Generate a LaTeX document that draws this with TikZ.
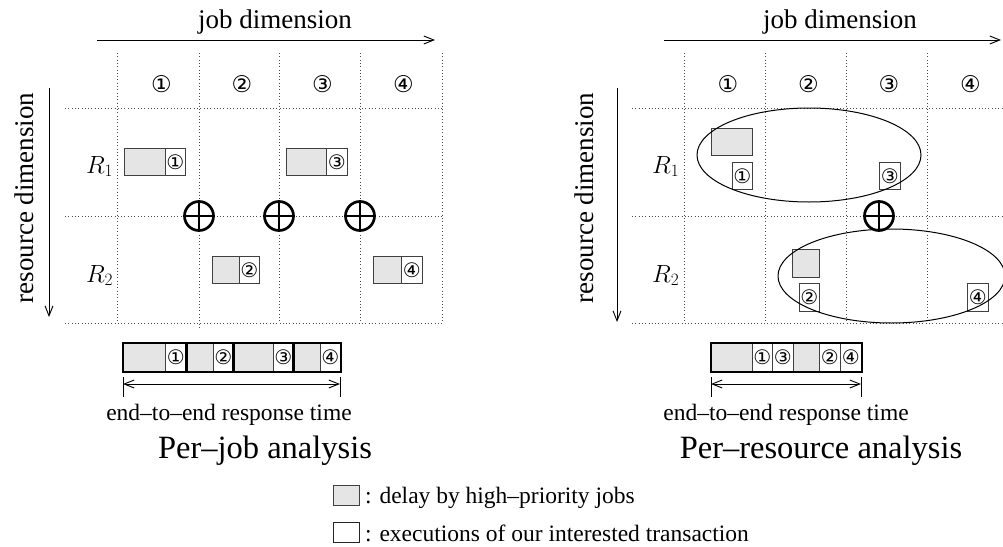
\documentclass[tikz,border=0pt]{standalone}
\usepackage[no-math]{fontspec}
\setmainfont{Liberation Serif}
\newfontfamily\circfont{DejaVu Sans}
\usetikzlibrary{arrows.meta,shapes.geometric}
\newcommand{\hdr}[1]{{\circfont\fontsize{23}{23}\selectfont #1}}
\tikzset{
  grid/.style={draw=black!70, line width=0.9pt, dash pattern=on 0.9pt off 2.4pt},
  delaybox/.style={draw=black!75, fill=black!10, line width=0.8pt, anchor=north west, inner sep=0pt, minimum height=27pt},
  execbox/.style={draw=black!75, fill=white, line width=0.8pt, anchor=north west, inner sep=0pt, minimum height=27pt, font=\circfont\fontsize{20}{20}\selectfont},
  axisarrow/.style={line width=0.9pt, -{Straight Barb[length=10pt,width=8pt]}},
  resparrow/.style={line width=0.9pt, {Straight Barb[length=10pt,width=8pt]}-{Straight Barb[length=10pt,width=8pt]}},
  tick/.style={line width=0.9pt},
  opluscirc/.style={circle, draw, line width=2.7pt, minimum size=29pt, inner sep=0pt},
  plusbar/.style={line width=2.7pt},
  group/.style={ellipse, draw, line width=1pt, inner sep=0pt},
  thickframe/.style={line width=2.6pt, draw=black},
  dimlabel/.style={font=\fontsize{27}{32}\selectfont},
  rlabel/.style={font=\fontsize{25}{30}\selectfont, anchor=base west, inner sep=0pt},
  smalltext/.style={font=\fontsize{23.5}{28}\selectfont},
  titletext/.style={font=\fontsize{32.5}{38}\selectfont, anchor=base},
  hdrlabel/.style={inner sep=0pt}
}
\begin{document}
\begin{tikzpicture}[x=1pt,y=-1pt]
\useasboundingbox (0,0) rectangle (1003,546);

% ================= LEFT PANEL =================
\foreach \x in {117,279,360,442} \draw[grid] (\x,53) -- (\x,323);
\draw[grid] (199,53) -- (199,327);
\foreach \y in {108,216,323} \draw[grid] (65,\y) -- (442,\y);

\node[dimlabel, anchor=base] (ljob) at (275,28) {job dimension};
\coordinate (lja) at (97,40); \coordinate (ljb) at (435,40);
\draw[axisarrow] (lja) -- (ljb);
\node[dimlabel, rotate=90, anchor=base] (lres) at (33,198) {resource dimension};
\coordinate (lra) at (49,88); \coordinate (lrb) at (49,317);
\draw[axisarrow] (lra) -- (lrb);

\node[hdrlabel] (lh1) at (161.5,84) {\hdr{①}};
\node[hdrlabel] (lh2) at (242,84) {\hdr{②}};
\node[hdrlabel] (lh3) at (322.5,84) {\hdr{③}};
\node[hdrlabel] (lh4) at (403.5,84) {\hdr{④}};

\node[rlabel] (lR1) at (86,173) {$R_1$};
\node[rlabel] (lR2) at (86,282) {$R_2$};

\node[delaybox, minimum width=41pt] (lg1) at (124,148) {};
\node[execbox, minimum width=20pt] (lw1) at (165,148) {①};
\node[delaybox, minimum width=40pt] (lg3) at (286,148) {};
\node[execbox, minimum width=21pt] (lw3) at (326,148) {③};
\node[delaybox, minimum width=27pt] (lg2) at (212,256) {};
\node[execbox, minimum width=20pt] (lw2) at (239,256) {②};
\node[delaybox, minimum width=28pt] (lg4) at (373,256) {};
\node[execbox, minimum width=21pt] (lw4) at (401,256) {④};

\foreach \n/\x in {lp1/199,lp2/279,lp3/360}{
  \node[opluscirc] (\n) at (\x,216) {};
  \draw[plusbar] (\n.north) -- (\n.south) (\n.west) -- (\n.east);
}

% ================= RIGHT PANEL =================
\foreach \x in {684,765,846,927} \draw[grid] (\x,53) -- (\x,323);
\foreach \y in {108,216,323} \draw[grid] (632,\y) -- (1003,\y);

\node[dimlabel, anchor=base] (rjob) at (840,28) {job dimension};
\coordinate (rja) at (664,40); \coordinate (rjb) at (1001,40);
\draw[axisarrow] (rja) -- (rjb);
\node[dimlabel, rotate=90, anchor=base] (rres) at (593,198) {resource dimension};
\coordinate (rra) at (617,88); \coordinate (rrb) at (617,322);
\draw[axisarrow] (rra) -- (rrb);

\node[hdrlabel] (rh1) at (728,84) {\hdr{①}};
\node[hdrlabel] (rh2) at (808.5,84) {\hdr{②}};
\node[hdrlabel] (rh3) at (889,84) {\hdr{③}};
\node[hdrlabel] (rh4) at (970.5,84) {\hdr{④}};

\node[rlabel] (rR1) at (652,173) {$R_1$};
\node[rlabel] (rR2) at (652,282) {$R_2$};

\node[delaybox, minimum width=41pt] (rg1) at (711,128) {};
\node[execbox, minimum width=20pt] (rw1) at (732,162) {①};
\node[execbox, minimum width=21pt] (rw3) at (879,162) {③};
\node[delaybox, minimum width=27pt, minimum height=28pt] (rg2) at (792,249) {};
\node[execbox, minimum width=20pt, minimum height=28pt] (rw2) at (799,283) {②};
\node[execbox, minimum width=21pt, minimum height=28pt] (rw4) at (967,283) {④};

\node[opluscirc] (rp) at (879,216) {};
\draw[plusbar] (rp.north) -- (rp.south) (rp.west) -- (rp.east);

\node[group, minimum width=224pt, minimum height=94pt] (re1) at (809,155) {};
\node[group, minimum width=227pt, minimum height=94pt] (re2) at (891.5,276) {};

% ================= BARS =================
% left bar
\node[delaybox, minimum width=42pt, minimum height=28pt] (bg1) at (123,343) {};
\node[execbox, minimum width=21pt, minimum height=28pt] (bw1) at (165,343) {①};
\node[delaybox, minimum width=27pt, minimum height=28pt] (bg2) at (186,343) {};
\node[execbox, minimum width=20pt, minimum height=28pt] (bw2) at (213,343) {②};
\node[delaybox, minimum width=40pt, minimum height=28pt] (bg3) at (233,343) {};
\node[execbox, minimum width=20pt, minimum height=28pt] (bw3) at (273,343) {③};
\node[delaybox, minimum width=27pt, minimum height=28pt] (bg4) at (293,343) {};
\node[execbox, minimum width=20pt, minimum height=28pt] (bw4) at (320,343) {④};
\draw[thickframe] (bg1.north west) rectangle (bw1.south east);
\draw[thickframe] (bg2.north west) rectangle (bw2.south east);
\draw[thickframe] (bg3.north west) rectangle (bw3.south east);
\draw[thickframe] (bg4.north west) rectangle (bw4.south east);

\coordinate (la) at (123,384); \coordinate (lb) at (340,384);
\coordinate (lat) at (123,377); \coordinate (lab) at (123,397);
\coordinate (lbt) at (340,377); \coordinate (lbb) at (340,397);
\draw[tick] (lat) -- (lab); \draw[tick] (lbt) -- (lbb);
\draw[resparrow] (la) -- (lb);
\node[smalltext, anchor=base] (lresp) at (229,420) {end--to--end response time};
\node[titletext] (ltitle) at (265,458) {Per--job analysis};

% right bar
\node[delaybox, minimum width=41pt, minimum height=28pt] (cg1) at (711,343) {};
\node[execbox, minimum width=20pt, minimum height=28pt] (cw1) at (752,343) {①};
\node[execbox, minimum width=21pt, minimum height=28pt] (cw3) at (772,343) {③};
\node[delaybox, minimum width=26pt, minimum height=28pt] (cg2) at (793,343) {};
\node[execbox, minimum width=21pt, minimum height=28pt] (cw2) at (819,343) {②};
\node[execbox, minimum width=21pt, minimum height=28pt] (cw4) at (840,343) {④};
\draw[thickframe] (cg1.north west) rectangle (cw4.south east);

\coordinate (ra) at (711,384); \coordinate (rb) at (861,384);
\coordinate (rat) at (711,377); \coordinate (rab) at (711,397);
\coordinate (rbt) at (861,377); \coordinate (rbb) at (861,397);
\draw[tick] (rat) -- (rab); \draw[tick] (rbt) -- (rbb);
\draw[resparrow] (ra) -- (rb);
\node[smalltext, anchor=base] (rresp) at (786,420) {end--to--end response time};
\node[titletext] (rtitle) at (821,458) {Per--resource analysis};

% ================= LEGEND =================
\node[delaybox, minimum width=26pt, minimum height=20pt] (keyg) at (333,485) {};
\node[smalltext, anchor=base west, inner sep=0pt] (keygt) at (365,503) {: delay by high--priority jobs};
\node[execbox, minimum width=26pt, minimum height=20pt, draw=black!85] (keyw) at (333,522) {};
\node[smalltext, anchor=base west, inner sep=0pt] (keywt) at (365,541) {: executions of our interested transaction};
\end{tikzpicture}
\end{document}
